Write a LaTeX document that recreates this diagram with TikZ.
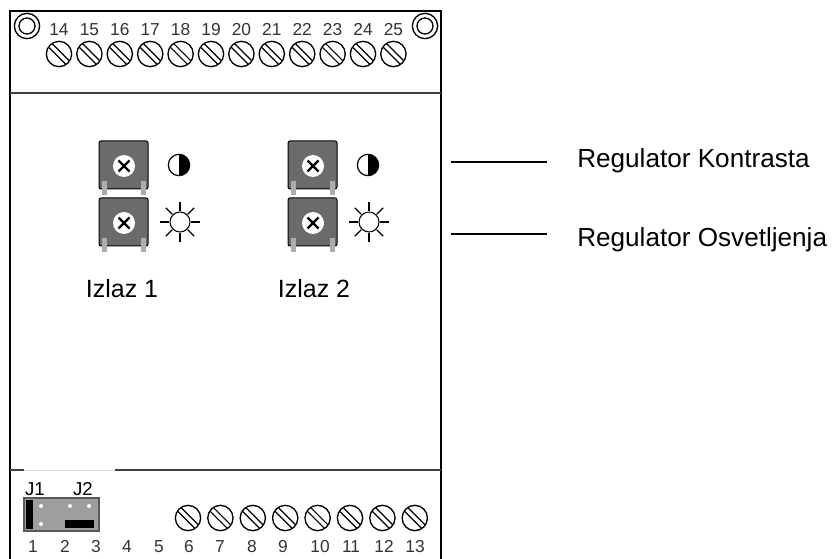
\documentclass[tikz,border=0pt]{standalone}
\usepackage{fontspec}
\setmainfont{Liberation Sans}
\usetikzlibrary{positioning}
\definecolor{trimgray}{gray}{.42}
\definecolor{pingray}{gray}{.68}
\definecolor{jumpgray}{gray}{.62}
\tikzset{
  screwhead/.style={circle, draw, line width=1pt, minimum size=19pt, inner sep=0pt},
  ringouter/.style={circle, draw, line width=1pt, minimum size=19pt, inner sep=0pt},
  ringinner/.style={circle, draw, line width=1pt, minimum size=12pt, inner sep=0pt},
  pinlabel/.style={font=\fontsize{13}{15}\selectfont, text=black!80, inner sep=0pt, anchor=base},
  biglabel/.style={font=\fontsize{19.6}{22}\selectfont, inner sep=0pt},
  izlazlabel/.style={font=\fontsize{18.7}{22}\selectfont, inner sep=0pt, anchor=base},
  jumplabel/.style={font=\fontsize{14}{16}\selectfont, inner sep=0pt, anchor=base},
  trimbox/.style={draw, fill=trimgray, rounded corners=1.5pt, line width=.75pt},
  trimhead/.style={circle, fill=white, minimum size=16.5pt, inner sep=0pt},
  sunrim/.style={circle, draw, line width=.8pt, minimum size=15pt, inner sep=0pt},
  contrastrim/.style={circle, draw, line width=.9pt, minimum size=16pt, inner sep=0pt},
  slotline/.style={line width=.9pt},
}
\newcommand{\screwslots}[1]{
  \draw[slotline] ([shift={(-6.5,-10)}]#1.center) -- ([shift={(10,6.5)}]#1.center);
  \draw[slotline] ([shift={(-10,-6.5)}]#1.center) -- ([shift={(6.5,10)}]#1.center);
}
\begin{document}
\begin{tikzpicture}[x=.75pt, y=-.75pt]
\useasboundingbox (0,0) rectangle (834,559);
% housing
\draw[line width=1.5pt] (10,559) -- (10,11) -- (441,11) -- (441,559);
\draw[line width=1.1pt, black!75] (10,93) -- (441,93);
\draw[line width=1.1pt, black!75] (10,470) -- (24,470);
\draw[line width=.5pt, black!15] (24,470) -- (115,470);
\draw[line width=1.1pt, black!75] (115,470) -- (441,470);
%
\foreach \name/\px in {ringa/27, ringb/425} {
  \node[ringouter] (\name) at (\px,26) {};
  \node[ringinner] (\name in) at (\px,26) {};
}
%
\foreach \num [count=\i from 0] in {14,...,25} {
  \pgfmathsetmacro{\px}{59+30.4*\i}
  \node[pinlabel] (top\num) at (\px,36) {\num};
  \node[screwhead] (screw\num) at (\px,54) {};
  \screwslots{screw\num}
}
%
\foreach \num/\px in {1/33, 2/65, 3/96, 4/127, 5/159, 6/189, 7/220, 8/252, 9/283, 10/320, 11/351, 12/384, 13/415}
  \node[pinlabel] (bot\num) at (\px,552) {\num};
\foreach \num [count=\i from 0] in {6,...,13} {
  \pgfmathsetmacro{\px}{188+32.4*\i}
  \node[screwhead] (screw\num) at (\px,518) {};
  \screwslots{screw\num}
}
%
\foreach \col/\dx in {a/0, b/189} {
  \foreach \row/\dy in {c/0, o/57} {
    \draw[trimbox] (99+\dx,141+\dy) rectangle (148+\dx,189+\dy);
    \fill[pingray] (101.5+\dx,181+\dy) rectangle (106.5+\dx,195+\dy);
    \fill[pingray] (140.5+\dx,181+\dy) rectangle (145.5+\dx,195+\dy);
    \node[trimhead] (head\col\row) at (124+\dx,166+\dy) {};
    \draw[line width=1.6pt] ([shift={(-5.5,-5.5)}]head\col\row.center) -- ([shift={(5.5,5.5)}]head\col\row.center);
    \draw[line width=1.6pt] ([shift={(-5.5,5.5)}]head\col\row.center) -- ([shift={(5.5,-5.5)}]head\col\row.center);
  }
  \node[contrastrim] (contrast\col) at (179+\dx,165) {};
  \fill (contrast\col.center) ++(0,-10.7) arc[start angle=-90, end angle=90, radius=10.7] -- cycle;
  \node[sunrim] (sun\col) at (180+\dx,222) {};
  \foreach \ang in {0,45,...,315}
    \draw[line width=1pt] (sun\col) ++(\ang:11) -- ++(\ang:9);
}
%
\node[izlazlabel] (izlaza) at (122,297) {Izlaz 1};
\node[izlazlabel] (izlazb) at (314,297) {Izlaz 2};
%
\coordinate (konta) at (451,162);
\coordinate (kontb) at (547,162);
\coordinate (osva) at (451,234);
\coordinate (osvb) at (547,234);
\draw[line width=1.1pt] (konta) -- (kontb);
\draw[line width=1.1pt] (osva) -- (osvb);
\node[biglabel, anchor=base west] (kontrast) at (577,168) {Regulator Kontrasta};
\node[biglabel, anchor=base west] (osvetljenje) at (577,247) {Regulator Osvetljenja};
%
\node[jumplabel] (jumpa) at (35,495) {J1};
\node[jumplabel] (jumpb) at (83,495) {J2};
\draw[fill=jumpgray, draw=black!65, line width=.8pt] (24,498) rectangle (99,531);
\fill (26,500) rectangle (33,529);
\fill (65,520) rectangle (94,528);
\foreach \px/\py in {41/506, 70/506, 89/506, 41/524}
  \fill[white] (\px,\py) circle[radius=2];
\end{tikzpicture}
\end{document}
